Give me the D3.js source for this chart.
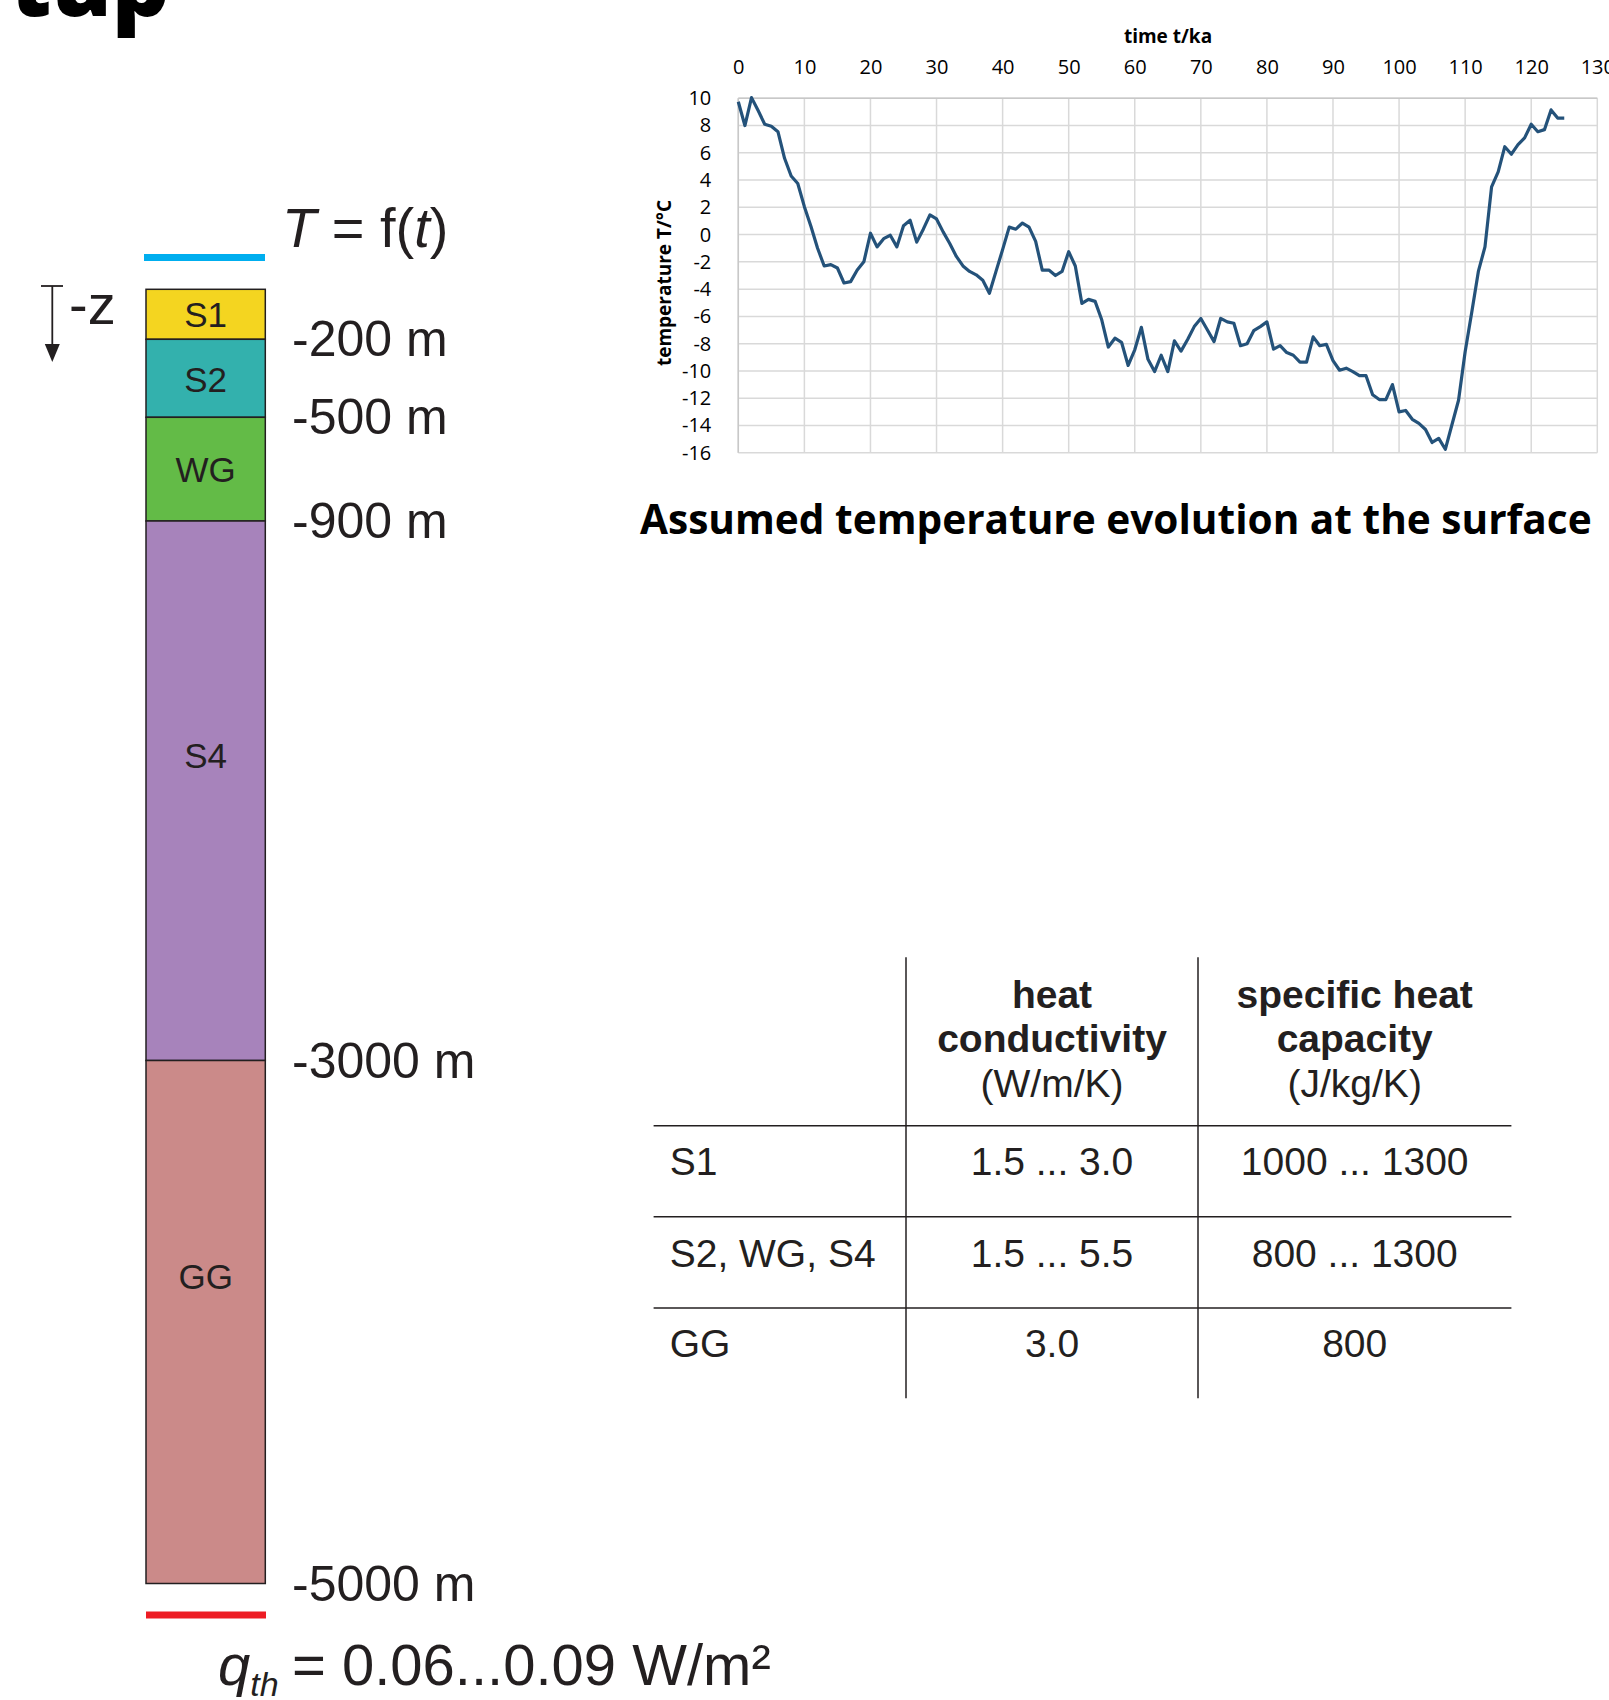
<!DOCTYPE html>
<html>
<head>
<meta charset="utf-8">
<script src="https://cdn.jsdelivr.net/npm/d3@7"></script>
<style>
  body { margin: 0; background: #fff; }
  svg { display: block; }
</style>
</head>
<body>
<svg id="fig" width="1609" height="1700"></svg>
<script>
// surface temperature curve (time in ka, temperature in deg C)
const times = [
  0, 1, 2, 3, 4, 5, 6, 7, 8, 9, 10, 11, 12, 13, 14, 15, 16, 17, 18, 19,
  20, 21, 22, 23, 24, 25, 26, 27, 28, 29, 30, 31, 32, 33, 34, 35, 36, 37, 38, 39,
  40, 41, 42, 43, 44, 45, 46, 47, 48, 49, 50, 51, 52, 53, 54, 55, 56, 57, 58, 59,
  60, 61, 62, 63, 64, 65, 66, 67, 68, 69, 70, 71, 72, 73, 74, 75, 76, 77, 78, 79,
  80, 81, 82, 83, 84, 85, 86, 87, 88, 89, 90, 91, 92, 93, 94, 95, 96, 97, 98, 99,
  100, 101, 102, 103, 104, 105, 106, 107, 108, 109, 110, 111, 112, 113, 114, 115,
  116, 117, 118, 119, 120, 121, 122, 123, 124, 125
];
const temps = [
  9.75, 8.0, 10.05, 9.1, 8.1, 7.95, 7.55, 5.6, 4.3, 3.75,
  2.05, 0.6, -1.0, -2.3, -2.2, -2.45, -3.55, -3.45, -2.6, -2.0,
  0.1, -0.9, -0.3, -0.05, -0.9, 0.65, 1.05, -0.55, 0.4, 1.45,
  1.15, 0.2, -0.65, -1.6, -2.3, -2.7, -2.95, -3.35, -4.3, -2.7,
  -1.1, 0.55, 0.4, 0.85, 0.55, -0.5, -2.6, -2.6, -3.0, -2.7,
  -1.25, -2.3, -5.05, -4.75, -4.9, -6.25, -8.25, -7.6, -7.9, -9.6,
  -8.45, -6.8, -9.15, -10.05, -8.85, -10.05, -7.8, -8.55, -7.7, -6.75,
  -6.15, -7.0, -7.85, -6.15, -6.4, -6.5, -8.15, -8.0, -7.05, -6.75,
  -6.4, -8.4, -8.15, -8.65, -8.85, -9.35, -9.35, -7.5, -8.15, -8.05,
  -9.25, -9.95, -9.8, -10.05, -10.35, -10.35, -11.75, -12.1, -12.1, -11.0,
  -13.0, -12.9, -13.55, -13.85, -14.3, -15.25, -14.95, -15.75, -13.95, -12.15,
  -8.6, -5.7, -2.7, -0.9, 3.5, 4.6, 6.45, 5.9, 6.6, 7.1,
  8.1, 7.55, 7.7, 9.15, 8.55, 8.55
];
const xTicks = [0, 10, 20, 30, 40, 50, 60, 70, 80, 90, 100, 110, 120, 130];
const yTicks = [10, 8, 6, 4, 2, 0, -2, -4, -6, -8, -10, -12, -14, -16];

// subsurface layers (depth in m)
const layerNames = ["S1", "S2", "WG", "S4", "GG"];
const layerTops = [0, -200, -500, -900, -3000];
const layerBottoms = [-200, -500, -900, -3000, -5000];
const depthLabels = ["-200 m", "-500 m", "-900 m", "-3000 m", "-5000 m"];

// rock properties table
const headerCond = ["heat", "conductivity", "(W/m/K)"];
const headerCap = ["specific heat", "capacity", "(J/kg/K)"];
const rowNames = ["S1", "S2, WG, S4", "GG"];
const conductivity = ["1.5 ... 3.0", "1.5 ... 5.5", "3.0"];
const heatCapacity = ["1000 ... 1300", "800 ... 1300", "800"];

const svg = d3.select("#fig");
const ink = "#231f20";
const sans = "'Liberation Sans', Arial, sans-serif";
const open = "'Open Sans', sans-serif";

// page title (cut by the top edge)
svg.append("text")
  .attr("x", 10).attr("y", 16)
  .attr("font-family", open).attr("font-weight", 800)
  .attr("font-size", 90).attr("fill", "#000")
  .text("tup");

// ---------------- temperature chart ----------------
const x = d3.scaleLinear().domain([0, 130]).range([738.3, 1597.3]);
const y = d3.scaleLinear().domain([-16, 10]).range([452.7, 98.3]);

const chart = svg.append("g");

chart.append("g").selectAll("line").data(yTicks).join("line")
  .attr("x1", x(0)).attr("x2", x(130))
  .attr("y1", d => y(d)).attr("y2", d => y(d))
  .attr("stroke", "#d9d9d9").attr("stroke-width", 1.5);

chart.append("g").selectAll("line").data(xTicks).join("line")
  .attr("x1", d => x(d)).attr("x2", d => x(d))
  .attr("y1", y(10)).attr("y2", y(-16))
  .attr("stroke", "#d9d9d9").attr("stroke-width", 1.5);

// outer frame a bit darker on top / left
chart.append("line")
  .attr("x1", x(0)).attr("x2", x(130)).attr("y1", y(10)).attr("y2", y(10))
  .attr("stroke", "#c8c8c8").attr("stroke-width", 1.5);
chart.append("line")
  .attr("x1", x(0)).attr("x2", x(0)).attr("y1", y(10)).attr("y2", y(-16))
  .attr("stroke", "#c8c8c8").attr("stroke-width", 1.5);

const xAxis = chart.append("g")
  .attr("transform", `translate(0,${y(10)})`)
  .call(d3.axisTop(x).tickValues(xTicks).tickFormat(d => String(d))
    .tickSize(0).tickPadding(24));
xAxis.select(".domain").remove();
xAxis.selectAll("text")
  .attr("font-family", open).attr("font-size", 20).attr("fill", "#000");

const yAxis = chart.append("g")
  .attr("transform", `translate(${x(0)},0)`)
  .call(d3.axisLeft(y).tickValues(yTicks).tickFormat(d => String(d))
    .tickSize(0).tickPadding(27));
yAxis.select(".domain").remove();
yAxis.selectAll("text")
  .attr("font-family", open).attr("font-size", 20).attr("fill", "#000");

chart.append("text")
  .attr("x", 1168).attr("y", 43)
  .attr("text-anchor", "middle")
  .attr("font-family", open).attr("font-weight", 700).attr("font-size", 19)
  .text("time t/ka");

chart.append("text")
  .attr("transform", "translate(671,283) rotate(-90)")
  .attr("text-anchor", "middle")
  .attr("font-family", open).attr("font-weight", 700).attr("font-size", 19)
  .text("temperature T/°C");

const line = d3.line()
  .x((d, i) => x(times[i]))
  .y(d => y(d));

chart.append("path")
  .datum(temps)
  .attr("d", line)
  .attr("fill", "none")
  .attr("stroke", "#24527a")
  .attr("stroke-width", 3.2)
  .attr("stroke-linejoin", "round");

const title = svg.append("text")
  .attr("x", 640).attr("y", 534)
  .attr("font-family", open).attr("font-weight", 700).attr("font-size", 38)
  .attr("fill", "#000")
  .text("Assumed temperature evolution at the surface");
const tw = title.node().getComputedTextLength();
title.attr("font-size", 38 * 952 / tw);

// ---------------- layer column ----------------
const depth = d3.scaleLinear()
  .domain([0, -200, -500, -900, -3000, -5000])
  .range([289.3, 339.3, 417.3, 521, 1060.5, 1583.5]);
const layerColor = d3.scaleOrdinal()
  .domain(layerNames)
  .range(["#f4d520", "#33b1ad", "#63bb47", "#a783bb", "#cb8a89"]);
const labelFrac = [0.5, 0.52, 0.5, 0.434, 0.413];
const colX = 146, colW = 119.3;

const col = svg.append("g");
col.selectAll("rect").data(layerNames).join("rect")
  .attr("x", colX)
  .attr("y", (d, i) => depth(layerTops[i]))
  .attr("width", colW)
  .attr("height", (d, i) => depth(layerBottoms[i]) - depth(layerTops[i]))
  .attr("fill", d => layerColor(d))
  .attr("stroke", ink).attr("stroke-width", 1.5);

col.selectAll("text.layer").data(layerNames).join("text")
  .attr("class", "layer")
  .attr("x", colX + colW / 2)
  .attr("y", (d, i) => {
    const t = depth(layerTops[i]), b = depth(layerBottoms[i]);
    return t + (b - t) * labelFrac[i] + 12.5;
  })
  .attr("text-anchor", "middle")
  .attr("font-family", sans).attr("font-size", 35).attr("fill", ink)
  .text(d => d);

col.selectAll("text.depth").data(layerBottoms).join("text")
  .attr("class", "depth")
  .attr("x", 292)
  .attr("y", d => depth(d) + 17)
  .attr("font-family", sans).attr("font-size", 50).attr("fill", ink)
  .text((d, i) => depthLabels[i]);

// surface boundary (blue) and basal heat flow (red)
col.append("rect").attr("x", 144).attr("y", 254).attr("width", 121).attr("height", 7)
  .attr("fill", "#00aeef");
col.append("rect").attr("x", 146).attr("y", 1611.5).attr("width", 120).attr("height", 7)
  .attr("fill", "#ed1c24");

const tf = col.append("text")
  .attr("x", 282).attr("y", 247)
  .attr("font-family", sans).attr("font-size", 56).attr("fill", ink);
tf.append("tspan").attr("font-style", "italic").text("T");
tf.append("tspan").text(" = f(");
tf.append("tspan").attr("font-style", "italic").text("t");
tf.append("tspan").text(")");

// -z arrow
const arrow = col.append("g").attr("stroke", ink).attr("stroke-width", 1.8);
arrow.append("line").attr("x1", 41).attr("x2", 63).attr("y1", 286).attr("y2", 286);
arrow.append("line").attr("x1", 52.3).attr("x2", 52.3).attr("y1", 286).attr("y2", 348);
col.append("path")
  .attr("d", "M44.8,344 L59.8,344 L52.3,362 Z")
  .attr("fill", ink);
col.append("text")
  .attr("x", 69).attr("y", 324)
  .attr("font-family", sans).attr("font-size", 56).attr("fill", ink)
  .text("-z");

const q = col.append("text")
  .attr("x", 218).attr("y", 1685)
  .attr("font-family", sans).attr("font-size", 58).attr("fill", ink);
q.append("tspan").attr("font-style", "italic").text("q");
q.append("tspan").attr("font-style", "italic").attr("font-size", 34).attr("dy", 11).text("th");
q.append("tspan").attr("x", 292).attr("dy", -11).text("= 0.06...0.09 W/m²");

// ---------------- property table ----------------
const colEdges = [653.6, 906, 1198, 1511.4];
const rowEdges = [1125.7, 1216.7, 1308];
const tbl = svg.append("g");

tbl.selectAll("line.v").data([colEdges[1], colEdges[2]]).join("line")
  .attr("class", "v")
  .attr("x1", d => d).attr("x2", d => d)
  .attr("y1", 957.3).attr("y2", 1398.3)
  .attr("stroke", ink).attr("stroke-width", 1.5);

tbl.selectAll("line.h").data(rowEdges).join("line")
  .attr("class", "h")
  .attr("x1", colEdges[0]).attr("x2", colEdges[3])
  .attr("y1", d => d).attr("y2", d => d)
  .attr("stroke", ink).attr("stroke-width", 1.5);

const headerBase = [1008.3, 1052, 1096.7];
[headerCond, headerCap].forEach((lines, c) => {
  const cx = (colEdges[c + 1] + colEdges[c + 2]) / 2;
  tbl.append("g").selectAll("text").data(lines).join("text")
    .attr("x", cx)
    .attr("y", (d, i) => headerBase[i])
    .attr("text-anchor", "middle")
    .attr("font-family", sans).attr("font-size", 39)
    .attr("font-weight", (d, i) => i < 2 ? 700 : 400)
    .attr("fill", ink)
    .text(d => d);
});

const rowBase = [1175, 1266.7, 1357.3];
tbl.append("g").selectAll("text").data(rowNames).join("text")
  .attr("x", 669.7).attr("y", (d, i) => rowBase[i])
  .attr("font-family", sans).attr("font-size", 39).attr("fill", ink)
  .text(d => d);
[conductivity, heatCapacity].forEach((vals, c) => {
  const cx = (colEdges[c + 1] + colEdges[c + 2]) / 2;
  tbl.append("g").selectAll("text").data(vals).join("text")
    .attr("x", cx).attr("y", (d, i) => rowBase[i])
    .attr("text-anchor", "middle")
    .attr("font-family", sans).attr("font-size", 39).attr("fill", ink)
    .text(d => d);
});
</script>
</body>
</html>
